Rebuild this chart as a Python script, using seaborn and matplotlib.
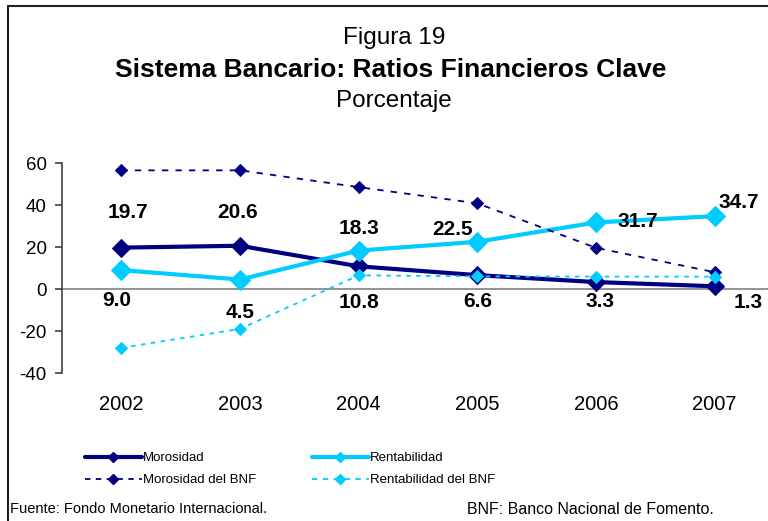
import pandas as pd
import matplotlib.pyplot as plt
import seaborn as sns
from matplotlib.lines import Line2D

years = ['2002', '2003', '2004', '2005', '2006', '2007']
morosidad = [19.7, 20.6, 10.8, 6.6, 3.3, 1.3]
rentabilidad = [9.0, 4.5, 18.3, 22.5, 31.7, 34.7]
morosidad_bnf = [56.5, 56.5, 48.5, 40.8, 19.6, 8.0]
rentabilidad_bnf = [-28.0, -19.0, 6.5, 6.0, 5.9, 5.9]

navy = '#000080'
cyan = '#00CCFF'

sns.set_theme(style='white')
plt.rcParams['font.family'] = ['Liberation Sans', 'DejaVu Sans']
plt.rcParams['text.color'] = 'black'
plt.rcParams['xtick.color'] = 'black'
plt.rcParams['ytick.color'] = 'black'
plt.rcParams['axes.unicode_minus'] = False

df = pd.DataFrame({'x': range(len(years)), 'mor': morosidad, 'ren': rentabilidad,
                   'mor_bnf': morosidad_bnf, 'ren_bnf': rentabilidad_bnf})

fig = plt.figure(figsize=(7.68, 5.21), dpi=100)
ax = fig.add_axes([62 / 768, 1 - 373 / 521, 712 / 768, 210 / 521])

ax.axhline(0, color='#808080', lw=1.2, zorder=1)

sns.lineplot(data=df, x='x', y='mor', ax=ax, color=navy, lw=3, marker='D', ms=9.5,
             mec=navy, zorder=3)
sns.lineplot(data=df, x='x', y='ren', ax=ax, color=cyan, lw=3, marker='D', ms=10,
             mec=cyan, zorder=3)
sns.lineplot(data=df, x='x', y='mor_bnf', ax=ax, color=navy, lw=1.3, marker='D', ms=6.5,
             mec=navy, linestyle=(0, (3.5, 4)), zorder=4)
sns.lineplot(data=df, x='x', y='ren_bnf', ax=ax, color=cyan, lw=1.3, marker='D', ms=6.5,
             mec=cyan, linestyle=(0, (2.5, 3)), zorder=4)

# data labels
mor_off = [(5, 25), (-2, 24), (0, -26), (0, -19), (3, -14), (24, -12)]
ren_off = [(-3, -22), (0, -24), (0, 16), (-18, 9), (30, 1), (17, 10)]
for i in range(len(years)):
    ax.annotate(f'{morosidad[i]:.1f}', (i, morosidad[i]), xytext=mor_off[i],
                textcoords='offset points', ha='center', va='center',
                fontsize=15, fontweight='bold', color='black', zorder=6)
    ax.annotate(f'{rentabilidad[i]:.1f}', (i, rentabilidad[i]), xytext=ren_off[i],
                textcoords='offset points', ha='center', va='center',
                fontsize=15, fontweight='bold', color='black', zorder=6)

ax.set_xlim(-0.5, 5.5)
ax.set_ylim(-40, 60)
ax.set_yticks([-40, -20, 0, 20, 40, 60])
ax.set_xticks(range(len(years)), years)
ax.set_xlabel('')
ax.set_ylabel('')
for s in ['top', 'right', 'bottom']:
    ax.spines[s].set_visible(False)
ax.spines['left'].set_color('#404040')
ax.spines['left'].set_linewidth(1.2)
ax.tick_params(axis='y', left=True, length=5, width=1.2, color='#404040',
               labelcolor='black', labelsize=13.5, pad=6)
ax.tick_params(axis='x', bottom=False, labelcolor='black', labelsize=14.5, pad=10)
ax.patch.set_alpha(0)

# titles
fig.text(394 / 768, 1 - 38 / 521, 'Figura 19', ha='center', va='center', fontsize=17.5)
fig.text(391 / 768, 1 - 70 / 521, 'Sistema Bancario: Ratios Financieros Clave',
         ha='center', va='center', fontsize=19, fontweight='bold')
fig.text(394 / 768, 1 - 101 / 521, 'Porcentaje', ha='center', va='center', fontsize=17.5)

# legend
h1 = [Line2D([], [], color=navy, lw=3, marker='D', ms=5),
      Line2D([], [], color=navy, lw=1.3, ls=(0, (3, 3)), marker='D', ms=5)]
h2 = [Line2D([], [], color=cyan, lw=3, marker='D', ms=5),
      Line2D([], [], color=cyan, lw=1.3, ls=(0, (3, 3)), marker='D', ms=5)]
leg_kw = dict(loc='upper left', frameon=False, handlelength=4.3, handletextpad=0.1,
              labelspacing=0.75, borderpad=0, borderaxespad=0,
              prop={'size': 9.5})
fig.legend(h1, ['Morosidad', 'Morosidad del BNF'],
           bbox_to_anchor=(85 / 768, 1 - 452 / 521), **leg_kw)
fig.legend(h2, ['Rentabilidad', 'Rentabilidad del BNF'],
           bbox_to_anchor=(312 / 768, 1 - 452 / 521), **leg_kw)

# footnotes
fig.text(10 / 768, 1 - 509 / 521, 'Fuente: Fondo Monetario Internacional.',
         ha='left', va='center', fontsize=10.5)
fig.text(467 / 768, 1 - 509 / 521, 'BNF: Banco Nacional de Fomento.',
         ha='left', va='center', fontsize=11.5)

# outer frame
fig.add_artist(Line2D([8 / 768, 8 / 768], [0, 1 - 6 / 521], transform=fig.transFigure,
                      color='#202020', lw=1.5))
fig.add_artist(Line2D([8 / 768, 1], [1 - 6 / 521, 1 - 6 / 521], transform=fig.transFigure,
                      color='#202020', lw=1.5))

fig.savefig('out.png', dpi=100)
